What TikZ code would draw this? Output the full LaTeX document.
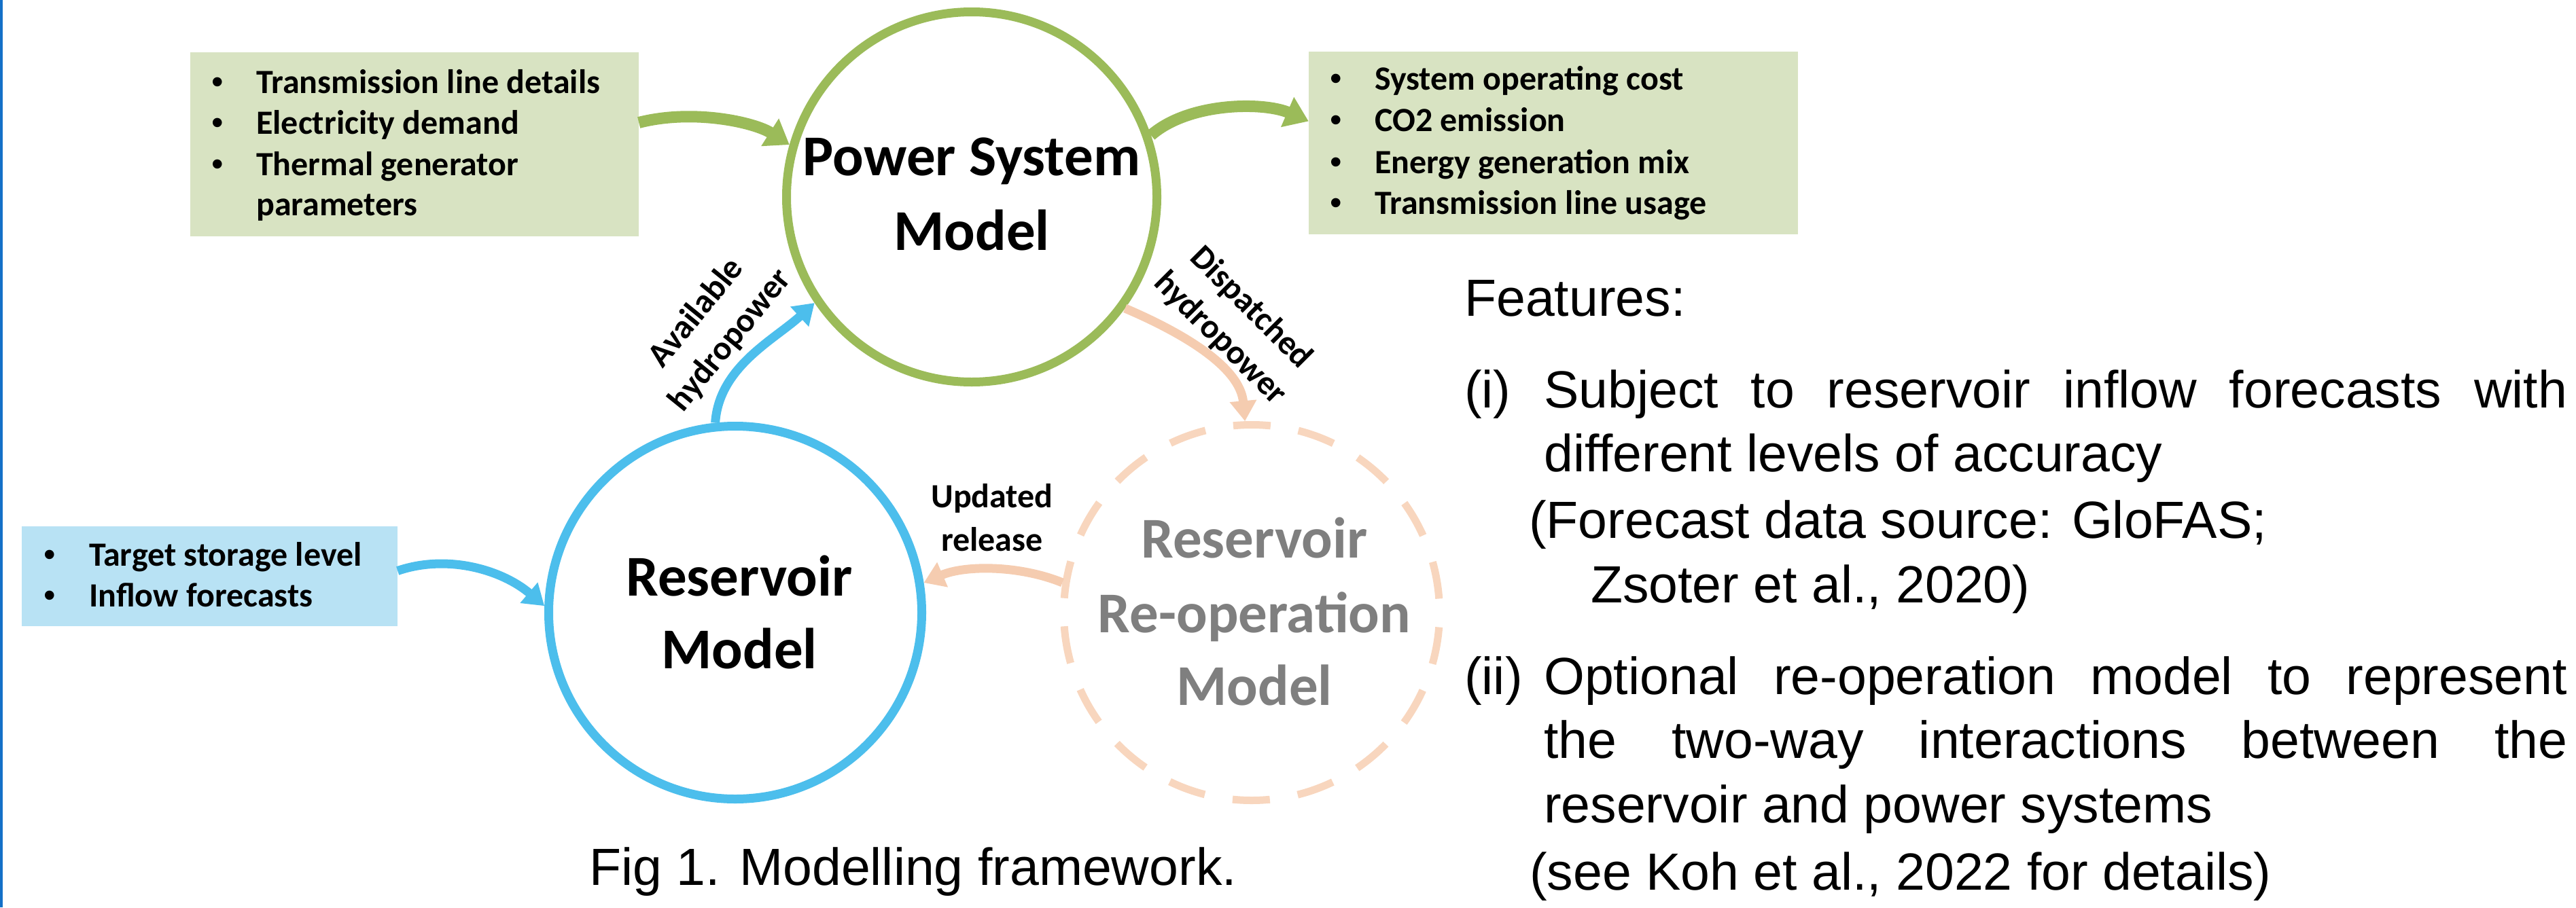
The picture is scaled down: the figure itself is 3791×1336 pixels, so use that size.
\documentclass[tikz,border=0pt]{standalone}
\usepackage{fontspec}
\setmainfont{Liberation Sans}
\newfontfamily\calib{Carlito}
\usetikzlibrary{arrows.meta}
\definecolor{gline}{RGB}{155,187,89}
\definecolor{gfill}{RGB}{216,227,194}
\definecolor{bline}{RGB}{76,190,236}
\definecolor{bfill}{RGB}{184,226,244}
\definecolor{pline}{RGB}{248,214,190}
\definecolor{parrow}{RGB}{245,204,176}
\definecolor{greytxt}{RGB}{127,127,127}
\definecolor{edgeblue}{RGB}{20,112,200}
\begin{document}
\begin{tikzpicture}[x=1pt,y=-1pt,
  boxG/.style={rectangle, fill=gfill, inner sep=0pt},
  boxB/.style={rectangle, fill=bfill, inner sep=0pt},
  itemtxt/.style={anchor=base west, inner sep=0pt, font=\calib\bfseries\fontsize{50}{60}\selectfont},
  bulletxt/.style={anchor=base west, inner sep=0pt, font=\fontsize{50}{60}\selectfont},
  modeltxt/.style={anchor=base, inner sep=0pt, font=\calib\bfseries\fontsize{85}{110}\selectfont},
  flowlbl/.style={inner sep=0pt, align=center, font=\calib\bfseries\fontsize{50}{64}\selectfont},
  bodytxt/.style={anchor=base west, inner sep=0pt, font=\fontsize{77}{96}\selectfont},
  ringG/.style={circle, draw=gline, line width=13pt, minimum size=545pt, inner sep=0pt},
  ringB/.style={circle, draw=bline, line width=13pt, minimum size=549pt, inner sep=0pt},
  ringP/.style={circle, draw=pline, line width=11pt, minimum size=553pt, inner sep=0pt,
     dash pattern=on 55pt off 41.5pt, dash phase=76pt},
  arrG/.style={draw=gline, line width=17pt, -{Triangle[length=34pt,width=46pt]}},
  arrB/.style={draw=bline, line width=13pt, -{Triangle[length=30pt,width=38pt]}},
  arrP/.style={draw=parrow, line width=13pt, -{Triangle[length=30pt,width=38pt]}}
]
\useasboundingbox (0,0) rectangle (3791,1336);
\fill[edgeblue] (0,0) rectangle (4,1336);

% boxes
\node[boxG, minimum width=660pt, minimum height=271pt] (inL) at (610,212.5) {};
\node[boxG, minimum width=720pt, minimum height=269pt] (outR) at (2286,210.5) {};
\node[boxB, minimum width=553pt, minimum height=147pt] (inB) at (308.5,848.5) {};

% box texts
\node[bulletxt] (b1) at (311,137) {•};
\node[itemtxt] (t1) at (377,137) {Transmission line details};
\node[bulletxt] (b2) at (311,197) {•};
\node[itemtxt] (t2) at (377,197) {Electricity demand};
\node[bulletxt] (b3) at (311,258) {•};
\node[itemtxt] (t3) at (377,258) {Thermal generator};
\node[itemtxt] (t4) at (377,317) {parameters};

\node[bulletxt] (r1b) at (1957,132) {•};
\node[itemtxt] (r1) at (2023,132) {System operating cost};
\node[bulletxt] (r2b) at (1957,193) {•};
\node[itemtxt] (r2) at (2023,193) {CO2 emission};
\node[bulletxt] (r3b) at (1957,255) {•};
\node[itemtxt] (r3) at (2023,255) {Energy generation mix};
\node[bulletxt] (r4b) at (1957,315) {•};
\node[itemtxt] (r4) at (2023,315) {Transmission line usage};

\node[bulletxt] (s1b) at (64,833) {•};
\node[itemtxt] (s1) at (131,833) {Target storage level};
\node[bulletxt] (s2b) at (64,893) {•};
\node[itemtxt] (s2) at (131,893) {Inflow forecasts};

% circles
\node[ringG] (psm) at (1430,290) {};
\node[ringB] (rsm) at (1082,902) {};
\node[ringP] (reop) at (1842,902) {};

\node[modeltxt] (psmA) at (1430,258) {Power System};
\node[modeltxt] (psmB) at (1430,368) {Model};
\node[modeltxt] (rsmA) at (1088,877) {Reservoir};
\node[modeltxt] (rsmB) at (1088,984) {Model};
\node[modeltxt, text=greytxt] (reA) at (1846,821) {Reservoir};
\node[modeltxt, text=greytxt] (reB) at (1846,931) {Re-operation};
\node[modeltxt, text=greytxt] (reC) at (1846,1038) {Model};

% connectors
\draw[arrG] ([yshift=32pt]inL.east) .. controls (1020,160) and (1110,180) .. (psm.164);
\draw[arrG] (psm.19) .. controls (1750,150) and (1860,150) .. ([yshift=32pt]outR.west);
\draw[arrB] ([yshift=8pt]inB.east) .. controls (660,815) and (740,840) .. (rsm.178);
\draw[arrB] (rsm.96) .. controls (1058,540) and (1140,500) .. (psm.214);
\draw[arrP] (psm.324) .. controls (1740,490) and (1825,540) .. (reop.92);
\draw[arrP] (reop.171) .. controls (1500,832) and (1420,832) .. (rsm.9);

% flow labels
\node[flowlbl, rotate=51] (avl) at (1050,481) {Available\\hydropower};
\node[flowlbl, rotate=-45] (dsp) at (1818,476) {Dispatched\\hydropower};
\node[flowlbl] (upd) at (1460,762) {Updated\\release};

% right column text
\node[bodytxt] (feat) at (2155,465) {Features:};
\node[bodytxt] (f1n) at (2155,600) {(i)};
\node[bodytxt] (f1a) at (2272,600) {\makebox[1506pt][s]{Subject to reservoir inflow forecasts with}};
\node[bodytxt] (f1b) at (2272,694) {different levels of accuracy};
\node[bodytxt] (f1c) at (2250,792) {(Forecast data source: GloFAS;};
\node[bodytxt] (f1d) at (2341,887) {Zsoter et al., 2020)};
\node[bodytxt] (f2n) at (2155,1022) {(ii)};
\node[bodytxt] (f2a) at (2272,1022) {\makebox[1506pt][s]{Optional re-operation model to represent}};
\node[bodytxt] (f2b) at (2272,1116) {\makebox[1506pt][s]{the two-way interactions between the}};
\node[bodytxt] (f2c) at (2272,1211) {reservoir and power systems};
\node[bodytxt] (f2d) at (2251,1310) {(see Koh et al., 2022 for details)};

\node[bodytxt] (cap) at (867,1303) {Fig 1. Modelling framework.};
\end{tikzpicture}
\end{document}
